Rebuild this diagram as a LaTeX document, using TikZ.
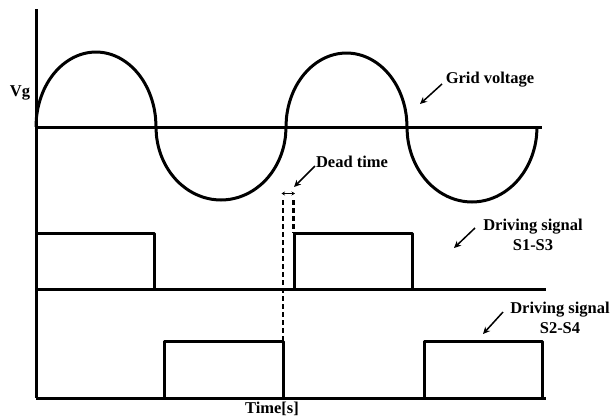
\documentclass[tikz,border=0pt]{standalone}
\usepackage{fontspec}
\setmainfont{Liberation Serif}
\usetikzlibrary{arrows.meta}
\tikzset{
  sig/.style={line width=3pt,line join=round},
  lbl/.style={font=\fontsize{16.5}{20}\selectfont\bfseries,inner sep=0pt,align=center},
  pointer/.style={-{Stealth[length=7pt,width=6.5pt]},line width=1.5pt},
  deadline/.style={line width=2.6pt,dash pattern=on 4.5pt off 3.5pt}
}
\begin{document}
\begin{tikzpicture}[x=1pt,y=-1pt]
        \useasboundingbox (0,0) rectangle (611,416);
        % axes
        \draw[sig] (36,9) -- (36,398);
        \draw[sig] (36,127) -- (542,127);
        \draw[sig] (36,289) -- (546,289);
        \draw[sig] (36,398) -- (546,398);
        % grid voltage
        \draw[sig] plot[domain=180:0,smooth,variable=\t] ({96+60*cos(\t)},{127-75*sin(\t)})
            -- plot[domain=0:180,smooth,variable=\t] ({221-65*cos(\t)},{127+73*sin(\t)})
            -- plot[domain=180:0,smooth,variable=\t] ({346.5+60.5*cos(\t)},{127-74*sin(\t)})
            -- plot[domain=0:180,smooth,variable=\t] ({472-65*cos(\t)},{127+75*sin(\t)});
        % driving signals
        \draw[sig] (36,233) -- (154,233) -- (154,289);
        \draw[sig] (294,289) -- (294,233) -- (412,233) -- (412,289);
        \draw[sig] (164,398) -- (164,341) -- (283,341) -- (283,398);
        \draw[sig] (424,398) -- (424,341) -- (542,341) -- (542,398);
        % dead time
        \draw[deadline] (283,200) -- (283,341);
        \draw[deadline] (293.5,200) -- (293.5,233);
        \coordinate (dtL) at (281.5,193.5);
        \coordinate (dtR) at (295,193.5);
        \draw[{Stealth[length=3.5pt,width=4pt]}-{Stealth[length=3.5pt,width=4pt]},line width=1pt] (dtL) -- (dtR);
        % labels
        \node[lbl] (vglabel) at (20,93) {Vg};
        \node[lbl] (gridlabel) at (490,80) {Grid voltage};
        \node[lbl] (deadlabel) at (352,162) {Dead time};
        \node[lbl] (drivea) at (533,235) {Driving signal\\S1-S3};
        \node[lbl] (driveb) at (560,318) {Driving signal\\S2-S4};
        \node[lbl] (timelabel) at (272,409) {Time[s]};
        % pointers
        \coordinate (gridtip) at (420,104);
        \coordinate (deadtip) at (294,187);
        \coordinate (driveatip) at (454,248);
        \coordinate (drivebtip) at (483,334);
        \draw[pointer] (442,84) -- (gridtip);
        \draw[pointer] (315,166) -- (deadtip);
        \draw[pointer] (475,228) -- (driveatip);
        \draw[pointer] (503,312) -- (drivebtip);
\end{tikzpicture}
\end{document}
